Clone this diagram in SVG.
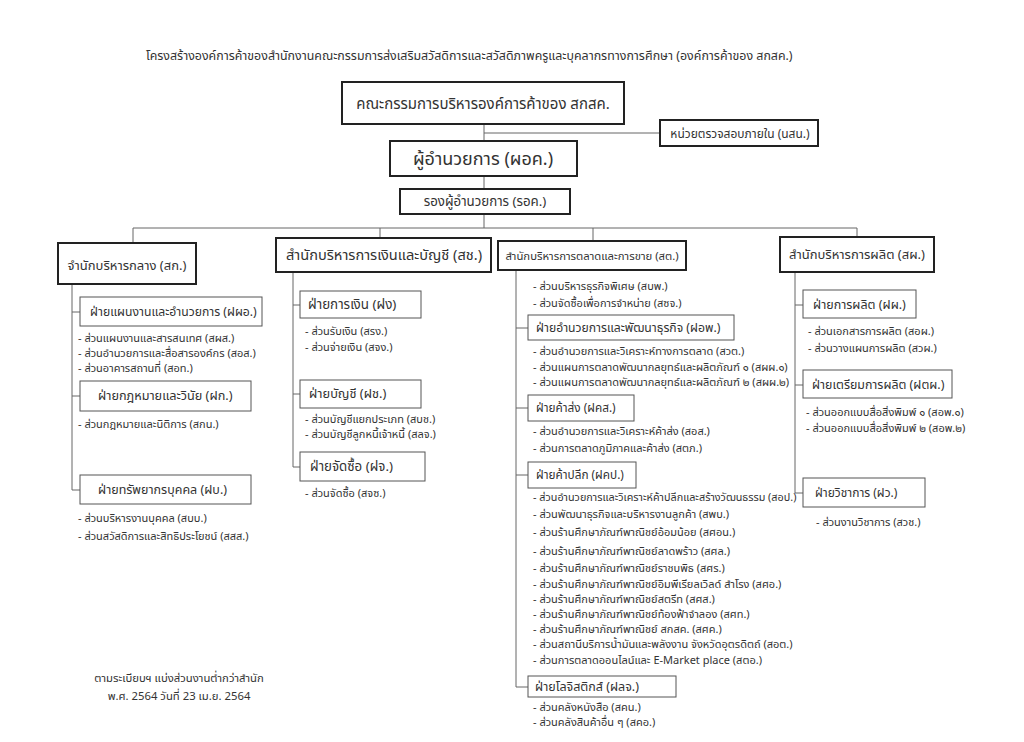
<svg xmlns="http://www.w3.org/2000/svg" width="1024" height="742" viewBox="0 0 1024 742">
<style>
text{font-family:"Noto Sans Thai","Noto Sans","DejaVu Sans",sans-serif;fill:#333}
.t{font-size:12.4px}
.i{font-size:11px}
.b{font-size:12.5px}
.c{font-size:11.8px}
.h{font-size:13px}
.box{fill:#fff;stroke:#555;stroke-width:1}
.hb{fill:#fff;stroke:#222;stroke-width:2}
.ln{stroke:#666;stroke-width:1;fill:none}
</style>
<rect width="1024" height="742" fill="#fff"/>
<text class="t" x="146" y="60">โครงสร้างองค์การค้าของสำนักงานคณะกรรมการส่งเสริมสวัสดิการและสวัสดิภาพครูและบุคลากรทางการศึกษา (องค์การค้าของ สกสค.)</text>
<g id="connectors">
<path class="ln" d="M484 124V189M484 133H660M484 214V228M133 228H857M133 228V243M380 228V238M593 228V241M857 228V237"/>
<path class="ln" d="M72 284V490M72 312H80M72 396H80M72 490H80"/>
<path class="ln" d="M293 272V467M293 305H300M293 394H300M293 467H300"/>
<path class="ln" d="M516 270V687M516 328H528M516 408H528M516 475H528M516 687H528"/>
<path class="ln" d="M795 272V493M795 305H803M795 385H803M795 493H803"/>
</g>
<g id="board"><rect class="hb" x="342" y="82" width="282" height="42"/><text x="483" y="109" text-anchor="middle" font-size="15">คณะกรรมการบริหารองค์การค้าของ สกสค.</text></g>
<g id="audit"><rect class="hb" x="660" y="120" width="158" height="26"/><text x="740" y="138" text-anchor="middle" font-size="12">หน่วยตรวจสอบภายใน (นสน.)</text></g>
<g id="director"><rect class="hb" x="390" y="141" width="187" height="35"/><text x="483" y="165" text-anchor="middle" font-size="18">ผู้อำนวยการ (ผอค.)</text></g>
<g id="deputy"><rect class="hb" x="400" y="189" width="170" height="25"/><text x="485" y="206" text-anchor="middle" font-size="13.3">รองผู้อำนวยการ (รอค.)</text></g>

<g id="sk"><rect class="hb" x="58" y="243" width="138" height="41"/><text class="h" x="127" y="270" text-anchor="middle">จำนักบริหารกลาง (สก.)</text></g>
<g id="fpo"><rect class="box" x="80" y="297" width="182" height="29"/><text x="90" y="316" font-size="12.2">ฝ่ายแผนงานและอำนวยการ (ฝผอ.)</text>
<text class="i" x="78" y="342">- ส่วนแผนงานและสารสนเทศ (สผส.)</text>
<text class="i" x="78" y="357">- ส่วนอำนวยการและสื่อสารองค์กร (สอส.)</text>
<text class="i" x="78" y="372">- ส่วนอาคารสถานที่ (สอท.)</text></g>
<g id="fk"><rect class="box" x="80" y="381" width="171" height="30"/><text x="98" y="400" font-size="12.7">ฝ่ายกฎหมายและวินัย (ฝก.)</text>
<text class="i" x="78" y="428">- ส่วนกฎหมายและนิติการ (สกน.)</text></g>
<g id="fb"><rect class="box" x="80" y="475" width="171" height="29"/><text x="98" y="494" font-size="12.5">ฝ่ายทรัพยากรบุคคล (ฝบ.)</text>
<text class="i" x="78" y="522">- ส่วนบริหารงานบุคคล (สบบ.)</text>
<text class="i" x="78" y="540">- ส่วนสวัสดิการและสิทธิประโยชน์ (สสส.)</text></g>

<g id="sch"><rect class="hb" x="276" y="238" width="215" height="34"/><text x="384" y="260" text-anchor="middle" font-size="14.6">สำนักบริหารการเงินและบัญชี (สช.)</text></g>
<g id="fng"><rect class="box" x="300" y="291" width="121" height="27"/><text x="308" y="309" font-size="13.4">ฝ่ายการเงิน (ฝง)</text>
<text class="i" x="305" y="335">- ส่วนรับเงิน (สรง.)</text>
<text class="i" x="305" y="351">- ส่วนจ่ายเงิน (สจง.)</text></g>
<g id="fch"><rect class="box" x="300" y="380" width="121" height="28"/><text x="309" y="398" font-size="12.8">ฝ่ายบัญชี (ฝช.)</text>
<text class="i" x="305" y="423">- ส่วนบัญชีแยกประเภท (สบช.)</text>
<text class="i" x="305" y="438">- ส่วนบัญชีลูกหนี้เจ้าหนี้ (สลจ.)</text></g>
<g id="fj"><rect class="box" x="300" y="452" width="125" height="29"/><text x="310" y="471" font-size="13.3">ฝ่ายจัดซื้อ (ฝจ.)</text>
<text class="i" x="305" y="497">- ส่วนจัดซื้อ (สจซ.)</text></g>

<g id="st"><rect class="hb" x="498" y="241" width="188" height="29"/><text x="592" y="260" text-anchor="middle" font-size="11.3">สำนักบริหารการตลาดและการขาย (สต.)</text>
<text class="i" x="533" y="290">- ส่วนบริหารธุรกิจพิเศษ (สบพ.)</text>
<text class="i" x="533" y="307">- ส่วนจัดซื้อเพื่อการจำหน่าย (สซจ.)</text></g>
<g id="fop"><rect class="box" x="528" y="315" width="206" height="25"/><text x="536" y="332" font-size="12.2">ฝ่ายอำนวยการและพัฒนาธุรกิจ (ฝอพ.)</text>
<text class="i" x="533" y="355">- ส่วนอำนวยการและวิเคราะห์ทางการตลาด (สวต.)</text>
<text class="i" x="533" y="371" font-size="11.5">- ส่วนแผนการตลาดพัฒนากลยุทธ์และผลิตภัณฑ์ ๑ (สผผ.๑)</text>
<text class="i" x="533" y="386" font-size="11.5">- ส่วนแผนการตลาดพัฒนากลยุทธ์และผลิตภัณฑ์ ๒ (สผผ.๒)</text></g>
<g id="fks"><rect class="box" x="528" y="395" width="106" height="26"/><text class="c" x="536" y="412">ฝ่ายค้าส่ง (ฝคส.)</text>
<text class="i" x="533" y="435">- ส่วนอำนวยการและวิเคราะห์ค้าส่ง (สอส.)</text>
<text class="i" x="533" y="452">- ส่วนการตลาดภูมิภาคและค้าส่ง (สตภ.)</text></g>
<g id="fkp"><rect class="box" x="528" y="462" width="108" height="26"/><text class="c" x="536" y="479">ฝ่ายค้าปลีก (ฝคป.)</text>
<text class="i" x="533" y="501" style="font-size:10.8px">- ส่วนอำนวยการและวิเคราะห์ค้าปลีกและสร้างวัฒนธรรม (สอป.)</text>
<text class="i" x="533" y="518">- ส่วนพัฒนาธุรกิจและบริหารงานลูกค้า (สพบ.)</text>
<text class="i" x="533" y="536">- ส่วนร้านศึกษาภัณฑ์พาณิชย์อ้อมน้อย (สศอน.)</text>
<text class="i" x="533" y="555">- ส่วนร้านศึกษาภัณฑ์พาณิชย์ลาดพร้าว (สศล.)</text>
<text class="i" x="533" y="572">- ส่วนร้านศึกษาภัณฑ์พาณิชย์ราชบพิธ (สศร.)</text>
<text class="i" x="533" y="588">- ส่วนร้านศึกษาภัณฑ์พาณิชย์อิมพีเรียลเวิลด์ สำโรง (สศอ.)</text>
<text class="i" x="533" y="603">- ส่วนร้านศึกษาภัณฑ์พาณิชย์สตรีท (สศส.)</text>
<text class="i" x="533" y="618">- ส่วนร้านศึกษาภัณฑ์พาณิชย์ท้องฟ้าจำลอง (สศท.)</text>
<text class="i" x="533" y="633">- ส่วนร้านศึกษาภัณฑ์พาณิชย์ สกสค. (สศค.)</text>
<text class="i" x="533" y="648">- ส่วนสถานีบริการน้ำมันและพลังงาน จังหวัดอุตรดิตถ์ (สอต.)</text>
<text class="i" x="533" y="664">- ส่วนการตลาดออนไลน์และ E-Market place (สตอ.)</text></g>
<g id="flj"><rect class="box" x="528" y="676" width="148" height="21"/><text x="535" y="691" font-size="12.5">ฝ่ายโลจิสติกส์ (ฝลจ.)</text>
<text class="i" x="533" y="711">- ส่วนคลังหนังสือ (สคน.)</text>
<text class="i" x="533" y="726">- ส่วนคลังสินค้าอื่น ๆ (สคอ.)</text></g>

<g id="sp"><rect class="hb" x="780" y="237" width="154" height="35"/><text class="h" x="857" y="259" text-anchor="middle">สำนักบริหารการผลิต (สผ.)</text></g>
<g id="fp"><rect class="box" x="803" y="290" width="113" height="28"/><text x="813" y="309" font-size="12.5">ฝ่ายการผลิต (ฝผ.)</text>
<text class="i" x="808" y="335">- ส่วนเอกสารการผลิต (สอผ.)</text>
<text class="i" x="808" y="352">- ส่วนวางแผนการผลิต (สวผ.)</text></g>
<g id="ftp"><rect class="box" x="803" y="370" width="149" height="28"/><text x="812" y="389" font-size="12.4">ฝ่ายเตรียมการผลิต (ฝตผ.)</text>
<text class="i" x="806" y="416" font-size="11.5">- ส่วนออกแบบสื่อสิ่งพิมพ์ ๑ (สอพ.๑)</text>
<text class="i" x="806" y="432" font-size="11.5">- ส่วนออกแบบสื่อสิ่งพิมพ์ ๒ (สอพ.๒)</text></g>
<g id="fw"><rect class="box" x="803" y="478" width="122" height="29"/><text x="815" y="497" font-size="12">ฝ่ายวิชาการ (ฝว.)</text>
<text class="i" x="816" y="526">- ส่วนงานวิชาการ (สวช.)</text></g>

<text x="179" y="682" text-anchor="middle" font-size="11.3">ตามระเบียบฯ แบ่งส่วนงานต่ำกว่าสำนัก</text>
<text x="179" y="700" text-anchor="middle" font-size="11.3">พ.ศ. 2564 วันที่ 23 เม.ย. 2564</text>
</svg>
